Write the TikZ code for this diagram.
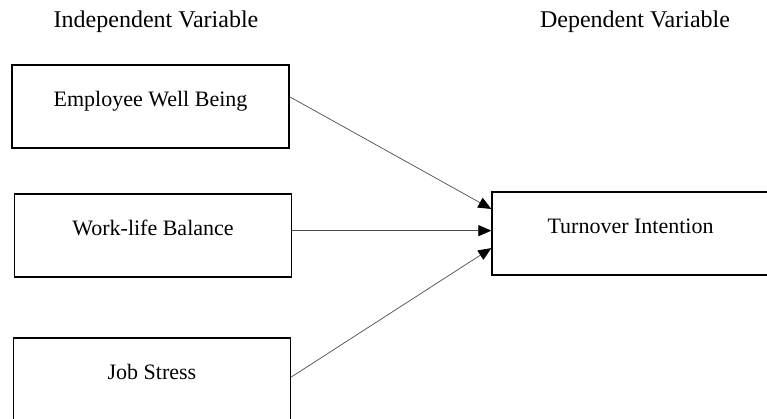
\documentclass[tikz,border=0pt]{standalone}
\usepackage{fontspec}
\setmainfont{Liberation Serif}
\usepackage{tikz}
\usetikzlibrary{arrows.meta, calc}
\tikzset{
  varbox/.style={draw, line width=1.4pt, minimum width=277pt, minimum height=83pt,
    text height=12pt, text depth=12pt, font=\fontsize{22}{26}\selectfont},
  headlbl/.style={font=\fontsize{24}{28}\selectfont},
  link/.style={-{Triangle[length=13pt, width=11pt, color=black]}, line width=0.7pt, draw=black!70}
}

\begin{document}
\begin{tikzpicture}[x=1pt, y=1pt]
\useasboundingbox (0,0) rectangle (767,418);
\clip (0,0) rectangle (767,418);
% column headings
\node[headlbl] (indep) at (156,396) {Independent Variable};
\node[headlbl] (dep) at (635,396) {Dependent Variable};
% independent variables
\node[varbox] (ewb) at (150.5,311.5) {Employee Well Being};
\node[varbox] (wlb) at (153,182.5) {Work-life Balance};
\node[varbox] (js) at (152,38.5) {Job Stress};
% dependent variable
\node[varbox] (ti) at (630.5,184.5) {Turnover Intention};
% paths
\draw[link] (ewb.4) -- (ti.170);
\draw[link] (wlb.2) -- (wlb.2 -| ti.west);
\draw[link] (js.1) -- (ti.186);
\end{tikzpicture}
\end{document}
